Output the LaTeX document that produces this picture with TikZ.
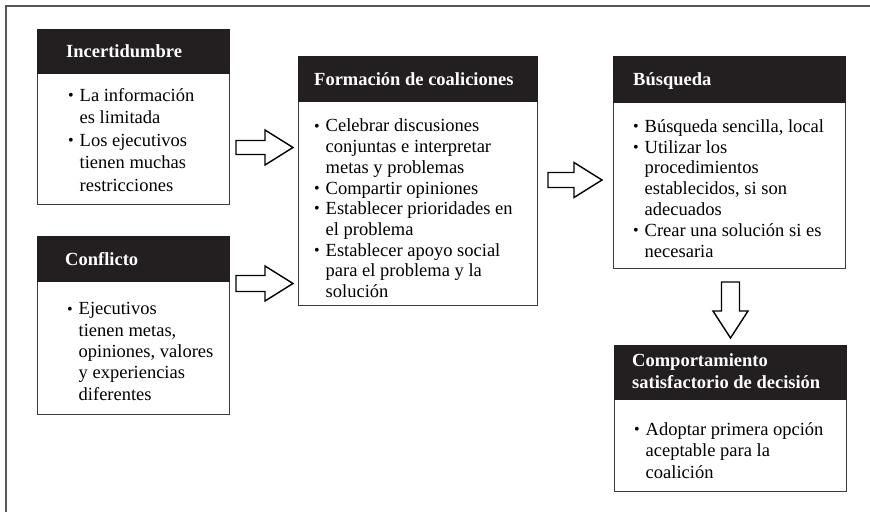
\documentclass[tikz,border=0pt]{standalone}
\usepackage{fontspec}
\setmainfont{Liberation Serif}
\usetikzlibrary{calc}

\definecolor{hdrblack}{HTML}{231F20}
\definecolor{boxrule}{HTML}{3C3C3C}
\definecolor{framerule}{HTML}{555555}

% bullet list helpers: bullet in a fixed box, continuation lines indented
\newlength\bulw
\setlength\bulw{11.5pt}
\newcommand\itm{\makebox[\bulw][l]{\raisebox{0.8pt}{\fontsize{16}{16}\selectfont\textbullet}}}
\newcommand\cnt{\hspace*{\bulw}}

% hollow block arrow pointing right: tail, tip, half shaft height
\newcommand\harrow[3]{%
  \draw[blockarrow] ($(#1)+(0,-#3)$) -- ($(#2)+(-28,-#3)$) -- ($(#2)+(-28,-17.5)$)
    -- (#2) -- ($(#2)+(-28,17.5)$) -- ($(#2)+(-28,#3)$) -- ($(#1)+(0,#3)$) -- cycle;}
% hollow block arrow pointing down: tail, tip
\newcommand\varrow[2]{%
  \draw[blockarrow] ($(#1)+(-9,0)$) -- ($(#2)+(-9,-27)$) -- ($(#2)+(-17.5,-27)$)
    -- (#2) -- ($(#2)+(17.5,-27)$) -- ($(#2)+(9,-27)$) -- ($(#1)+(9,0)$) -- cycle;}

% text nodes are placed by the baseline of their last line
\tikzset{
  box/.style={draw=boxrule, line width=1pt, fill=white, inner sep=0pt, anchor=north west},
  hdr/.style={fill=hdrblack, draw=hdrblack, line width=0.5pt, inner sep=0pt, anchor=north west},
  htext/.style={text=white, font=\bfseries\fontsize{18.5}{22}\selectfont, inner sep=0pt,
                anchor=base west, align=left},
  btext/.style={inner sep=0pt, anchor=base west, align=left},
  blockarrow/.style={draw=black, line width=1.4pt, fill=white, line join=miter},
  frame/.style={draw=framerule, line width=1.6pt}
}

\begin{document}
\begin{tikzpicture}[x=1pt, y=-1pt]
\useasboundingbox (0,0) rectangle (870,512);

% outer frame (open to the right and bottom)
\draw[frame] (6,512) -- (6,6) -- (870,6);

% Incertidumbre
\node[box, minimum width=192pt, minimum height=175pt] (inc) at (37,29) {};
\node[hdr, minimum width=192pt, minimum height=44pt] (inchd) at (inc.north west) {};
\node[htext] (inct) at (66,57) {Incertidumbre};
\node[btext, font=\fontsize{18.5}{22.5}\selectfont] (incb) at (68,191)
  {\itm La información\\ \cnt es limitada\\ \itm Los ejecutivos\\ \cnt tienen muchas\\ \cnt restricciones};

% Conflicto
\node[box, minimum width=192pt, minimum height=178pt] (con) at (37,236) {};
\node[hdr, minimum width=192pt, minimum height=45pt] (conhd) at (con.north west) {};
\node[htext] (cont) at (65,265) {Conflicto};
\node[btext, font=\fontsize{18.5}{21.3}\selectfont] (conb) at (67,400)
  {\itm Ejecutivos\\ \cnt tienen metas,\\ \cnt opiniones, valores\\ \cnt y experiencias\\ \cnt diferentes};

% Formación de coaliciones
\node[box, minimum width=239pt, minimum height=249pt] (form) at (298,56) {};
\node[hdr, minimum width=239pt, minimum height=45pt] (formhd) at (form.north west) {};
\node[htext] (formt) at (314,85) {Formación de coaliciones};
\node[btext, font=\fontsize{18.5}{20.7}\selectfont] (formb) at (314,297.5)
  {\itm Celebrar discusiones\\ \cnt conjuntas e interpretar\\ \cnt metas y problemas\\
   \itm Compartir opiniones\\ \itm Establecer prioridades en\\ \cnt el problema\\
   \itm Establecer apoyo social\\ \cnt para el problema y la\\ \cnt solución};

% Búsqueda
\node[box, minimum width=232pt, minimum height=212pt] (bus) at (613,56) {};
\node[hdr, minimum width=232pt, minimum height=46pt] (bushd) at (bus.north west) {};
\node[htext] (bust) at (633,85) {Búsqueda};
\node[btext, font=\fontsize{18.5}{20.8}\selectfont] (busb) at (633,257)
  {\itm Búsqueda sencilla, local\\ \itm Utilizar los\\ \cnt procedimientos\\
   \cnt establecidos, si son\\ \cnt adecuados\\ \itm Crear una solución si es\\ \cnt necesaria};

% Comportamiento satisfactorio de decisión
\node[box, minimum width=232pt, minimum height=146pt] (comp) at (614,345) {};
\node[hdr, minimum width=232pt, minimum height=54pt] (comphd) at (comp.north west) {};
\node[htext] (compt) at (632,388) {Comportamiento\\ satisfactorio de decisión};
\node[btext, font=\fontsize{18.5}{21.5}\selectfont] (compb) at (634,478)
  {\itm Adoptar primera opción\\ \cnt aceptable para la\\ \cnt coalición};

% block arrows between the boxes
\coordinate (a1s) at ($(inc.east)+(6,30.5)$);
\coordinate (a1e) at ($(form.west)+(-5,-33.5)$);
\harrow{a1s}{a1e}{7}
\coordinate (a2s) at ($(con.east)+(6,-42)$);
\coordinate (a2e) at ($(form.west)+(-5,102.5)$);
\harrow{a2s}{a2e}{8}
\coordinate (a3s) at ($(form.east)+(10,-1)$);
\coordinate (a3e) at ($(bus.west)+(-11,17.5)$);
\harrow{a3s}{a3e}{7.5}
\coordinate (a4s) at ($(comp.north)+(0,-63)$);
\coordinate (a4e) at ($(comp.north)+(0,-7)$);
\varrow{a4s}{a4e}
\end{tikzpicture}
\end{document}
